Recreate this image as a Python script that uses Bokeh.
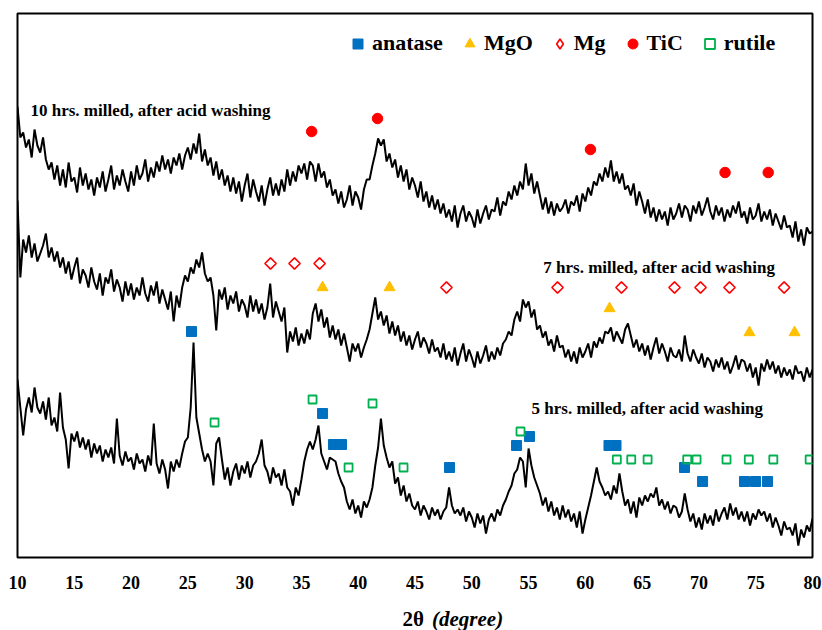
import numpy as np
from bokeh.plotting import figure
from bokeh.layouts import column
from bokeh.models import Range1d, Label, Legend, LegendItem, ColumnDataSource, FixedTicker
from bokeh.embed import file_html
from bokeh.resources import INLINE

# 2-theta grid of the scans (degrees)
theta_start = 10.0
theta_step = 0.25

# Intensities (a.u., stacked offsets as plotted), every 0.25 deg
trace_10h = [
    451, 420, 425, 410, 418, 400, 428, 412, 405, 420, 398, 388, 395, 378, 392, 372,
    388, 370, 395, 376, 380, 365, 390, 372, 384, 368, 378, 362, 380, 370, 386, 366,
    378, 392, 368, 382, 372, 388, 376, 366, 386, 372, 392, 378, 384, 398, 376, 390,
    380, 396, 386, 402, 388, 398, 384, 400, 392, 404, 388, 402, 410, 398, 414, 404,
    424, 396, 408, 392, 400, 382, 396, 378, 388, 372, 382, 366, 380, 364, 376, 356,
    372, 384, 360, 378, 366, 356, 372, 352, 368, 380, 362, 374, 362, 378, 366, 388,
    372, 386, 376, 392, 384, 394, 378, 396, 392, 376, 394, 380, 386, 370, 378, 362,
    368, 354, 366, 350, 358, 372, 352, 366, 360, 348, 368, 378, 378, 392, 404, 419,
    412, 418, 396, 404, 390, 398, 380, 392, 376, 388, 368, 380, 372, 360, 376, 356,
    366, 350, 362, 348, 358, 344, 354, 340, 348, 336, 352, 330, 344, 352, 336, 346,
    340, 330, 348, 334, 344, 352, 338, 348, 346, 360, 342, 356, 352, 366, 358, 372,
    362, 376, 368, 394, 372, 384, 364, 376, 362, 348, 360, 344, 356, 342, 354, 346,
    350, 358, 344, 356, 352, 362, 346, 364, 356, 370, 362, 376, 372, 384, 376, 390,
    380, 397, 376, 386, 374, 384, 368, 372, 362, 374, 352, 366, 356, 344, 358, 340,
    350, 336, 348, 338, 346, 332, 350, 338, 344, 354, 340, 352, 348, 336, 352, 344,
    356, 342, 350, 360, 346, 338, 352, 342, 350, 336, 348, 340, 352, 344, 356, 340,
    346, 334, 350, 338, 342, 354, 336, 346, 338, 348, 332, 344, 336, 328, 342, 330,
    332, 320, 336, 316, 328, 312, 330, 324, 326,
]
trace_7h = [
    357, 280, 318, 305, 322, 300, 314, 296, 304, 312, 324, 300, 310, 296, 306, 290,
    300, 284, 296, 278, 290, 300, 274, 288, 282, 270, 290, 276, 268, 284, 262, 280,
    274, 288, 266, 278, 270, 256, 276, 262, 274, 258, 270, 262, 280, 264, 256, 272,
    262, 276, 254, 268, 258, 248, 266, 236, 262, 250, 270, 282, 276, 290, 284, 298,
    290, 305, 284, 276, 280, 262, 227, 268, 258, 270, 248, 262, 254, 266, 246, 258,
    252, 240, 262, 246, 258, 244, 254, 238, 250, 274, 240, 256, 246, 236, 250, 205,
    226, 216, 230, 212, 224, 214, 228, 218, 244, 254, 236, 248, 230, 240, 220, 232,
    218, 228, 212, 224, 210, 196, 214, 206, 214, 200, 210, 218, 228, 244, 260, 238,
    246, 232, 242, 224, 236, 222, 232, 216, 226, 212, 222, 208, 218, 226, 210, 220,
    214, 204, 218, 206, 210, 200, 214, 198, 206, 196, 210, 192, 204, 214, 196, 208,
    200, 190, 206, 194, 202, 212, 196, 206, 198, 210, 202, 214, 218, 226, 222, 238,
    246, 236, 258, 250, 256, 240, 248, 228, 232, 220, 226, 212, 218, 206, 222, 210,
    212, 200, 208, 196, 206, 194, 210, 200, 206, 214, 200, 216, 210, 220, 214, 226,
    224, 230, 216, 226, 220, 214, 228, 234, 222, 210, 218, 206, 214, 202, 212, 198,
    210, 220, 204, 214, 206, 196, 210, 202, 200, 208, 196, 222, 204, 196, 208, 200,
    194, 204, 190, 200, 196, 186, 198, 190, 200, 188, 196, 184, 192, 202, 188, 198,
    196, 186, 194, 180, 190, 172, 194, 186, 198, 188, 196, 184, 192, 180, 190, 182,
    188, 178, 192, 184, 186, 176, 190, 180, 188,
]
trace_5h = [
    178, 150, 122, 148, 160, 145, 170, 150, 144, 156, 138, 160, 132, 140, 126, 165,
    130, 118, 89, 124, 116, 126, 110, 120, 108, 118, 100, 114, 104, 112, 96, 108,
    100, 110, 94, 139, 102, 92, 106, 96, 100, 88, 104, 94, 98, 86, 102, 92,
    134, 94, 84, 98, 88, 69, 96, 86, 98, 90, 104, 116, 120, 150, 215, 140,
    124, 108, 96, 104, 96, 72, 114, 120, 98, 78, 90, 72, 86, 94, 78, 92,
    84, 96, 80, 92, 96, 104, 118, 92, 86, 74, 90, 80, 84, 72, 88, 70,
    66, 52, 70, 62, 78, 96, 108, 116, 108, 118, 132, 104, 96, 88, 100, 98,
    96, 84, 76, 70, 56, 48, 58, 44, 52, 40, 56, 50, 58, 70, 92, 110,
    139, 112, 100, 90, 96, 74, 80, 62, 72, 56, 64, 52, 48, 56, 42, 52,
    46, 38, 50, 42, 48, 38, 46, 50, 70, 52, 44, 48, 42, 50, 36, 46,
    40, 30, 44, 34, 42, 24, 38, 44, 36, 48, 42, 52, 58, 66, 72, 84,
    88, 100, 96, 70, 109, 92, 80, 72, 64, 52, 60, 46, 56, 42, 50, 38,
    52, 40, 48, 36, 44, 30, 46, 24, 38, 50, 62, 76, 90, 76, 70, 62,
    66, 58, 72, 64, 84, 66, 52, 58, 44, 56, 40, 60, 52, 62, 56, 64,
    60, 70, 52, 58, 48, 56, 44, 52, 50, 40, 46, 64, 48, 36, 44, 30,
    40, 28, 44, 34, 42, 32, 48, 36, 44, 50, 38, 54, 42, 50, 38, 46,
    36, 46, 32, 44, 38, 48, 42, 46, 36, 44, 30, 40, 32, 22, 36, 28,
    30, 22, 34, 12, 28, 20, 32, 26, 39,
]

# Phase markers (2-theta, plotted height)
anatase_x = [25.32, 36.86, 37.82, 38.53, 48.04, 53.94, 55.08, 62.08, 62.70, 68.73, 70.32, 74.01, 74.98, 76.04]
anatase_y = [226, 144, 113, 113, 90, 112, 121, 112, 112, 90, 76, 76, 76, 76]
mgo_x = [36.86, 42.76, 62.13, 74.45, 78.42]
mgo_y = [270, 270, 249, 225, 225]
mg_x = [32.28, 34.39, 36.60, 47.77, 57.55, 63.18, 67.85, 70.14, 72.69, 77.50]
mg_y = [294, 294, 294, 270, 270, 270, 270, 270, 270, 270]
tic_x = [35.90, 41.70, 60.45, 72.30, 76.10]
tic_y = [426, 439, 408, 385, 385]
rutile_x = [27.35, 35.98, 39.15, 41.26, 43.99, 54.29, 62.77, 64.04, 65.48, 68.97, 69.79, 72.43, 74.39, 76.55, 79.75]
rutile_y = [135, 158, 90, 154, 90, 126, 98, 98, 98, 98, 98, 98, 98, 98, 98]

x_ticks = [10, 15, 20, 25, 30, 35, 40, 45, 50, 55, 60, 65, 70, 75, 80]

FONT = "Liberation Serif"
x_range = Range1d(10, 80)

p = figure(width=822, height=592, x_range=x_range, y_range=Range1d(0, 544),
           output_backend="svg", toolbar_location=None, y_axis_location=None,
           min_border_left=17, min_border_right=10, min_border_top=13, min_border_bottom=35)
p.xgrid.visible = False
p.ygrid.visible = False
p.outline_line_color = "black"
p.outline_line_width = 2
p.background_fill_color = "white"
p.border_fill_color = "white"

ax = p.xaxis[0]
ax.ticker = FixedTicker(ticks=x_ticks)
ax.major_tick_line_color = None
ax.minor_tick_line_color = None
ax.axis_line_color = None
ax.major_label_text_font = FONT
ax.major_label_text_font_style = "bold"
ax.major_label_text_font_size = "18px"
ax.major_label_text_color = "black"
ax.major_label_standoff = 12

for tr in (trace_10h, trace_7h, trace_5h):
    xs = theta_start + theta_step * np.arange(len(tr))
    src = ColumnDataSource(dict(x=xs, y=np.array(tr, dtype=float)))
    p.line("x", "y", source=src, line_color="black", line_width=2)

r_an = p.scatter(anatase_x, anatase_y, marker="square", size=10, fill_color="#0070C0", line_color="#0070C0")
r_mgo = p.scatter(mgo_x, mgo_y, marker="triangle", size=11, fill_color="#FFC000", line_color="#FFC000")
p.scatter(mg_x, mg_y, marker="square", angle=np.pi / 4, size=8, fill_color=None,
          line_color="#FF0000", line_width=1.6)
# legend swatch for the Mg diamonds (hidden in the plot, only its key is drawn)
r_mg_key = p.scatter(mg_x, mg_y, marker="diamond", size=10, fill_color=None,
                     line_color="#FF0000", line_width=1.6, visible=False)
r_tic = p.scatter(tic_x, tic_y, marker="circle", size=10.5, fill_color="#FF0000", line_color="#FF0000")
r_ru = p.scatter(rutile_x, rutile_y, marker="square", size=8, fill_color=None,
                 line_color="#00B050", line_width=1.8)

legend = Legend(items=[LegendItem(label="anatase", renderers=[r_an]),
                       LegendItem(label="MgO", renderers=[r_mgo]),
                       LegendItem(label="Mg", renderers=[r_mg_key]),
                       LegendItem(label="TiC", renderers=[r_tic]),
                       LegendItem(label="rutile", renderers=[r_ru])],
                orientation="horizontal", location=(328, 501),
                glyph_width=25, glyph_height=25, label_standoff=2, spacing=14,
                padding=0, margin=0, border_line_color=None, background_fill_alpha=0,
                label_text_font=FONT, label_text_font_style="bold",
                label_text_font_size="22px", label_height=25, label_text_color="black",
                inactive_fill_alpha=0)
p.add_layout(legend)

for tx, ty, txt in [(11.14, 447, "10 hrs. milled, after acid washing"),
                    (56.30, 290, "7 hrs. milled, after acid washing"),
                    (55.26, 149, "5 hrs. milled, after acid washing")]:
    p.add_layout(Label(x=tx, y=ty, text=txt, text_font=FONT, text_font_style="bold",
                       text_font_size="17px", text_baseline="middle", text_color="black"))

# x-axis title strip (mixed upright / italic text)
t = figure(width=822, height=38, x_range=x_range, y_range=Range1d(0, 38),
           output_backend="svg", toolbar_location=None, x_axis_location=None, y_axis_location=None,
           min_border=0, min_border_left=17, min_border_right=10)
t.xgrid.visible = False
t.ygrid.visible = False
t.outline_line_color = None
t.add_layout(Label(x=43.9, y=12, text="2θ", text_font=FONT, text_font_style="bold",
                   text_font_size="21px", text_baseline="middle", text_color="black"))
t.add_layout(Label(x=46.5, y=12, text="(degree)", text_font=FONT, text_font_style="bold italic",
                   text_font_size="21px", text_baseline="middle", text_color="black"))

page = column(p, t, spacing=0)
open("out.html", "w").write(file_html(page, INLINE))
